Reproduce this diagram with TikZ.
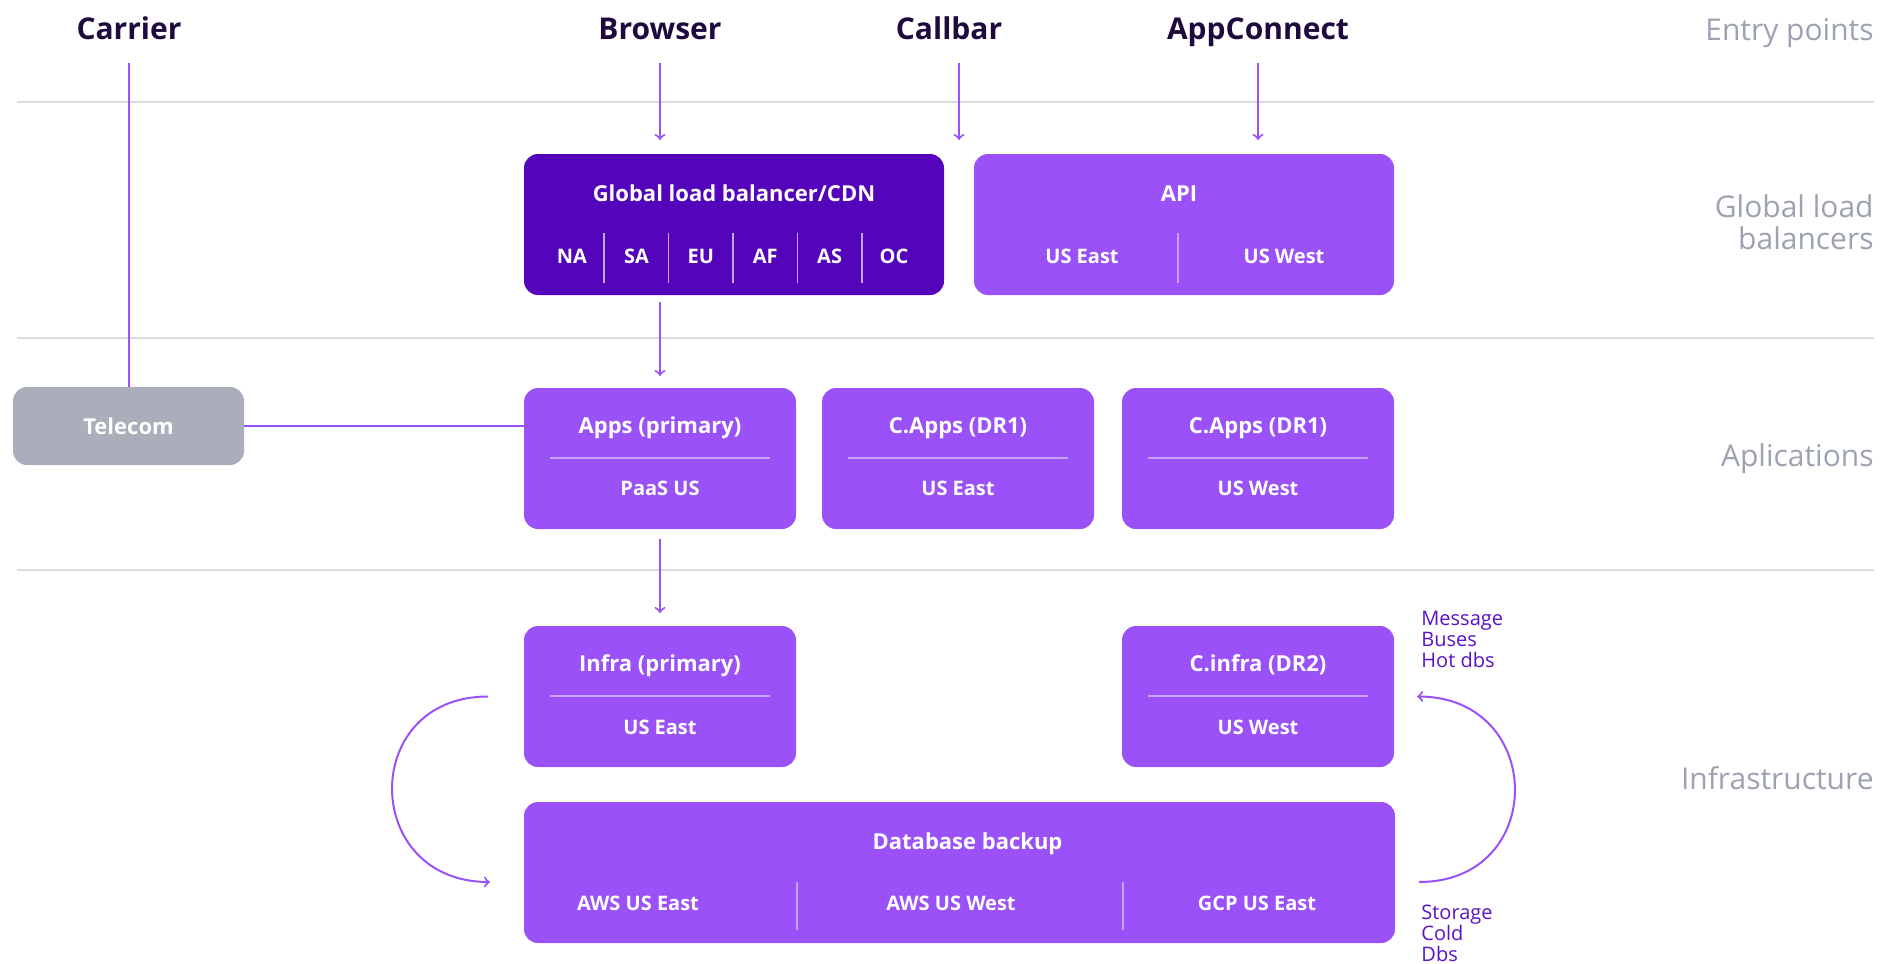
\documentclass[tikz,border=0pt]{standalone}
\usepackage{fontspec}
\setmainfont{Open Sans}
\usepackage{tikz}
\usetikzlibrary{shapes,arrows,positioning}

\definecolor{deeppurple}{HTML}{5405BC}
\definecolor{midpurple}{HTML}{9B51F8}
\definecolor{linepurple}{HTML}{9B51F8}
\definecolor{splitpurple}{HTML}{C8A3FB}
\definecolor{telegray}{HTML}{A9AEBA}
\definecolor{headink}{HTML}{1F0A3D}
\definecolor{layergray}{HTML}{9DA2B0}
\definecolor{rulegray}{HTML}{D8DBE1}
\definecolor{notepurple}{HTML}{5A12C6}

\begin{document}
\begin{tikzpicture}[
    x=0.5pt, y=-0.5pt,
    node distance=15pt and 15pt,
    box/.style={rectangle, rounded corners=7pt, fill=midpurple, inner sep=0pt, outer sep=0pt},
    bigbox/.style={box, minimum width=210pt, minimum height=70.5pt},
    appbox/.style={box, minimum width=136pt, minimum height=70.5pt},
    boxtitle/.style={text=white, font=\fontsize{11}{13}\selectfont\bfseries, inner sep=0pt, text height=1.5ex, text depth=.25ex},
    boxsub/.style={boxtitle, font=\fontsize{10}{12}\selectfont\bfseries},
    entry/.style={text=headink, font=\fontsize{15}{18}\selectfont\bfseries, inner sep=0pt, text height=1.5ex, text depth=.25ex},
    layer/.style={text=layergray, font=\fontsize{15}{16}\selectfont, anchor=east, align=right, inner sep=0pt},
    note/.style={text=notepurple, font=\fontsize{10}{10.5}\selectfont, anchor=north west, align=left, inner sep=0pt},
    flow/.style={->, line width=1pt, draw=linepurple},
    link/.style={line width=1pt, draw=linepurple},
    rule/.style={line width=1pt, draw=rulegray},
    split/.style={line width=1.2pt, draw=splitpurple},
    thinsplit/.style={line width=0.8pt, draw=splitpurple}
]
\useasboundingbox (0,0) rectangle (1888,963);

% entry points
\node[entry] (carrier) at (129,33) {Carrier};
\node[entry] (browser) at (660,33) {Browser};
\node[entry] (callbar) at (949,33) {Callbar};
\node[entry] (appconnect) at (1258,33) {AppConnect};

% layer names
\node[layer] (lentry) at (1874,33) {Entry points};
\node[layer] (lglobal) at (1874,222) {Global load\\balancers};
\node[layer] (lapps) at (1874,459) {Aplications};
\node[layer] (linfra) at (1874,778) {Infrastructure};

\draw[rule] (17,102) -- (1874,102);
\draw[rule] (17,338) -- (1874,338);
\draw[rule] (17,570) -- (1874,570);

% global load balancers
\node[bigbox, fill=deeppurple] (glb) at (734,224.5) {};
\node[bigbox, right=15pt of glb] (api) {};

\node[boxtitle] (glbtitle) at ([yshift=-20.5pt]glb.north) {Global load balancer/CDN};
\node[boxsub] (na) at ([xshift=24pt,yshift=-51.5pt]glb.north west) {NA};
\node[boxsub] (sa) at ([xshift=56.2pt,yshift=-51.5pt]glb.north west) {SA};
\node[boxsub] (eu) at ([xshift=88.4pt,yshift=-51.5pt]glb.north west) {EU};
\node[boxsub] (af) at ([xshift=120.6pt,yshift=-51.5pt]glb.north west) {AF};
\node[boxsub] (as) at ([xshift=152.8pt,yshift=-51.5pt]glb.north west) {AS};
\node[boxsub] (oc) at ([xshift=185pt,yshift=-51.5pt]glb.north west) {OC};
\draw[thinsplit] ([xshift=40.1pt,yshift=-39.5pt]glb.north west) -- ++(0,50);
\draw[thinsplit] ([xshift=72.3pt,yshift=-39.5pt]glb.north west) -- ++(0,50);
\draw[thinsplit] ([xshift=104.5pt,yshift=-39.5pt]glb.north west) -- ++(0,50);
\draw[thinsplit] ([xshift=136.7pt,yshift=-39.5pt]glb.north west) -- ++(0,50);
\draw[thinsplit] ([xshift=168.9pt,yshift=-39.5pt]glb.north west) -- ++(0,50);

\node[boxtitle] (apititle) at ([xshift=-2.5pt,yshift=-20.5pt]api.north) {API};
\node[boxsub] (apieast) at ([xshift=54pt,yshift=-51.5pt]api.north west) {US East};
\node[boxsub] (apiwest) at ([xshift=155pt,yshift=-51.5pt]api.north west) {US West};
\draw[thinsplit] ([xshift=102pt,yshift=-39.5pt]api.north west) -- ++(0,50);

% applications
\node[box, fill=telegray, minimum width=115.5pt, minimum height=39pt] (telecom) at (128.5,426) {};
\node[boxtitle] (telecomtitle) at ([yshift=-1pt]telecom.center) {Telecom};

\node[appbox] (apps) at (660,458.5) {};
\node[appbox, right=13pt of apps] (cappseast) {};
\node[appbox, right=14pt of cappseast] (cappswest) {};

\node[boxtitle] (appstitle) at ([yshift=-19.5pt]apps.north) {Apps (primary)};
\node[boxsub] (appssub) at ([yshift=-50.5pt]apps.north) {PaaS US};
\draw[split] ([xshift=13pt,yshift=-35pt]apps.north west) -- ([xshift=-13pt,yshift=-35pt]apps.north east);

\node[boxtitle] (cappseasttitle) at ([yshift=-19.5pt]cappseast.north) {C.Apps (DR1)};
\node[boxsub] (cappseastsub) at ([yshift=-50.5pt]cappseast.north) {US East};
\draw[split] ([xshift=13pt,yshift=-35pt]cappseast.north west) -- ([xshift=-13pt,yshift=-35pt]cappseast.north east);

\node[boxtitle] (cappswesttitle) at ([yshift=-19.5pt]cappswest.north) {C.Apps (DR1)};
\node[boxsub] (cappswestsub) at ([yshift=-50.5pt]cappswest.north) {US West};
\draw[split] ([xshift=13pt,yshift=-35pt]cappswest.north west) -- ([xshift=-13pt,yshift=-35pt]cappswest.north east);

% infrastructure
\node[appbox, below=48.5pt of apps] (infra) {};
\node[appbox, below=48.5pt of cappswest] (cinfra) {};
\node[box, minimum width=435.5pt, minimum height=70.5pt, below right=17.5pt and 0pt of infra.south west] (dbbackup) {};

\node[boxtitle] (infratitle) at ([yshift=-19.5pt]infra.north) {Infra (primary)};
\node[boxsub] (infrasub) at ([yshift=-51pt]infra.north) {US East};
\draw[split] ([xshift=13pt,yshift=-35pt]infra.north west) -- ([xshift=-13pt,yshift=-35pt]infra.north east);

\node[boxtitle] (cinfratitle) at ([yshift=-19.5pt]cinfra.north) {C.infra (DR2)};
\node[boxsub] (cinfrasub) at ([yshift=-51pt]cinfra.north) {US West};
\draw[split] ([xshift=13pt,yshift=-35pt]cinfra.north west) -- ([xshift=-13pt,yshift=-35pt]cinfra.north east);

\node[boxtitle] (dbtitle) at ([xshift=4pt,yshift=-20.5pt]dbbackup.north) {Database backup};
\node[boxsub] (awseast) at ([xshift=57pt,yshift=-51pt]dbbackup.north west) {AWS US East};
\node[boxsub] (awswest) at ([xshift=213.5pt,yshift=-51pt]dbbackup.north west) {AWS US West};
\node[boxsub] (gcpeast) at ([xshift=366.5pt,yshift=-51pt]dbbackup.north west) {GCP US East};
\draw[thinsplit] ([xshift=136.5pt,yshift=-40pt]dbbackup.north west) -- ++(0,48);
\draw[thinsplit] ([xshift=299.5pt,yshift=-40pt]dbbackup.north west) -- ++(0,48);

\node[note] (hotnote) at (1421,611) {Message\\Buses\\Hot dbs};
\node[note] (coldnote) at (1421,905) {Storage\\Cold\\Dbs};

% connectors
\coordinate (callbarend) at (959,140);
\draw[flow, shorten <=10pt, shorten >=7pt] (browser.south) -- (browser.south |- glb.north);
\draw[flow, shorten <=10pt] (callbar.south -| callbarend) -- (callbarend);
\draw[flow, shorten <=10pt, shorten >=7pt] (appconnect.south) -- (appconnect.south |- api.north);
\draw[link, shorten <=10pt] (carrier.south) -- (carrier.south |- telecom.north);
\draw[link] (telecom.east) -- (telecom.east -| apps.west);
\draw[flow, shorten <=3.5pt, shorten >=6pt] (glb.south -| apps.north) -- (apps.north);
\draw[flow, shorten <=5pt, shorten >=6.5pt] (apps.south) -- (infra.north);

\draw[flow] ([xshift=-18pt]infra.west) .. controls +(-129,0) and +(-129,0) .. ([xshift=-17pt,yshift=-4.75pt]dbbackup.west);
\draw[flow] ([xshift=12pt,yshift=-4.75pt]dbbackup.east) .. controls +(129,0) and +(129,0) .. ([xshift=11.5pt]cinfra.east);
\end{tikzpicture}
\end{document}
